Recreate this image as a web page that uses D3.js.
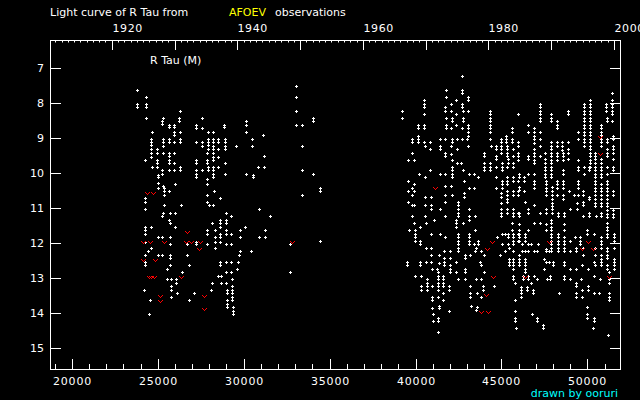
<!DOCTYPE html>
<html>
<head>
<meta charset="utf-8">
<script src="https://cdn.jsdelivr.net/npm/d3@7"></script>
<style>
  body { margin: 0; background: #000; }
  svg { display: block; }
  text { font-family: "DejaVu Sans", sans-serif; font-size: 11px; fill: #fff; }
</style>
</head>
<body>
<svg class="main" width="640" height="400"></svg>
<script>
// visual estimates (JD - 2400000, magnitude), grouped by observing column
const obs1920s = [
  [23790,[7.63,8.02,8.10]], [24200,[13.34]],
  [24250,[9.63,10.71,10.83,11.03,11.54,11.63,11.74,11.98,12.34,12.54,12.63]],
  [24310,[7.83,8.02,8.10,8.43]], [24430,[12.23]], [24490,[14.03]], [24545,[13.63]],
  [24600,[11.54,12.14]], [24610,[9.03,9.10,9.20,9.30,9.43,9.53]], [24660,[8.83,9.83]],
  [24950,[9.30,9.43,9.62,9.70,9.83]], [25010,[10.06,10.12,10.29,10.43,11.83,12.34]],
  [25240,[8.50,8.61,9.91,10.03,11.23,11.83,12.34]], [25280,[8.43,9.03,9.10,9.22,9.43,10.36,11.14]],
  [25360,[10.43,10.51,10.63,10.91]], [25530,[12.74,13.03]],
  [25630,[8.62,8.70,9.03,9.10,9.43,9.50,9.62,9.70,9.91,10.51,11.34]],
  [25710,[11.14,11.43,11.83,12.03,12.34,12.43,12.63]], [25770,[13.03,13.23,13.34,13.54]],
  [25960,[8.62,8.70,8.83,8.90,9.10,9.43,9.70,9.91]], [26000,[10.31,11.14,11.54]],
  [26060,[13.03,13.14]], [26120,[13.43]], [26230,[8.43,8.51]],
  [26290,[8.23,8.83,9.03,9.10,9.83,9.91]], [26350,[10.91]], [26410,[12.83]],
  [26700,[12.03,12.34]], [26810,[12.63,13.63]], [27100,[13.43]],
  [27250,[8.63,8.71,9.10,9.62,9.70,9.91,10.03,10.12,11.98,12.03]],
  [27570,[8.43,8.71,9.10,9.22,9.91]],
  [27860,[9.43,9.62,9.70,10.17,10.31,10.63,10.83,11.63,11.74,12.03]],
  [27920,[8.83,9.03,9.10,9.20,9.30,9.83,9.91]], [27980,[10.91]], [28090,[13.34]],
  [28150,[11.43,13.14]],
  [28210,[8.83,9.03,9.10,9.22,9.30,9.43,9.53,9.62,9.83,9.91,10.03,10.12,10.91]],
  [28270,[10.51]], [28330,[11.63,11.83,11.98,12.14]],
  [28530,[9.03,9.10,9.30,9.53,9.83,12.94]],
  [28620,[10.71,11.34,11.43,11.54,11.74,11.83,11.98,12.54,12.63]],
  [28680,[12.94,13.14]], [28850,[8.62,8.70]], [28910,[9.03,9.10,9.22,9.30,9.70,10.03]],
  [28970,[11.14,11.34,11.43,11.63,11.74,12.03,12.54,12.83,13.14]],
  [29030,[13.34,13.43,13.63,13.74,13.83]], [29260,[11.23,11.74,12.03,12.54,12.83]],
  [29320,[13.03,13.23,13.34,13.43,13.54,13.63]], [29380,[13.83,13.94,14.03]],
  [29550,[9.22]], [29610,[12.74]], [29670,[12.54]], [29720,[12.34]],
  [29780,[11.63,11.83,12.23]], [30070,[11.54]], [30130,[8.51,8.63,8.83,10.03]],
  [30420,[12.23]], [30480,[9.03,9.22]], [30540,[10.06,10.12]], [30830,[9.83]],
  [30890,[11.03,11.83]], [31120,[8.91]], [31180,[9.51,9.83]], [31240,[11.63,11.83]],
  [31530,[11.23]], [32690,[12.03,12.83]], [33040,[7.51,7.83,8.23,8.63]],
  [33390,[8.63,9.23,9.91,10.63]], [34060,[8.43,8.51,10.03]], [34440,[10.43,10.51,11.94]]
]

const obs1970s = [
  [39210,[8.23,8.43]], [39510,[12.54,12.63]], [39560,[9.63,10.23,10.51,10.83]], [39640,[11.63]],
  [39800,[9.03,9.11,9.43,10.43,10.63,10.91,11.23]], [39910,[9.63,10.31,10.51,10.91,11.43]],
  [39970,[11.63,11.74,11.83,11.94,12.94]], [40140,[8.63,8.71,8.94,9.03,9.11]], [40200,[10.03]],
  [40260,[11.54,11.94,12.03,12.54,12.63]], [40310,[12.94,13.23,13.34]],
  [40490,[7.91,8.03,8.11,8.31,8.63,8.71,9.11]], [40550,[9.23,10.11,10.69,10.91,11.23]],
  [40600,[11.43,12.14,12.54]], [40660,[13.03,13.14,13.23,13.34]], [40840,[9.11,9.31,9.91]],
  [40900,[10.69,10.91,11.03,11.74,12.14,12.34,12.54]], [40950,[12.74,13.23,13.54,13.63,13.86]],
  [41010,[14.03,14.23]], [41070,[11.34]], [41250,[12.74]],
  [41300,[12.83,12.94,13.03,13.14,13.23,13.34,13.54,14.14,14.23,14.54]],
  [41360,[12.34,12.57,13.80,13.86]], [41420,[9.03,9.23,9.31,10.03,11.03,11.74]],
  [41590,[12.94,13.03,13.14,13.23,13.43,13.63]], [41650,[12.23,12.43,12.54,12.63]],
  [41710,[8.11,8.23,9.03,9.43,9.51,10.03,10.37,10.63,10.83,11.23,11.83]],
  [41770,[7.63,7.83,8.43,8.63,8.71]], [41940,[13.23,13.34,13.94]],
  [42000,[12.23,12.43,12.63,12.74,12.83]], [42060,[8.03,8.23,8.71,9.23,9.46,10.37]],
  [42120,[8.43,8.51,9.03,9.11,9.63,9.83,9.91,10.03,10.11,10.63]],
  [42350,[7.91,8.31,8.63,11.34,11.43,11.54,12.54,12.83]], [42410,[9.03,9.31,9.71]],
  [42470,[10.83,10.91,11.03,11.14,11.23,11.74,11.83,11.94,12.03,12.14,12.23,13.03]],
  [42640,[9.71]], [42700,[7.22,7.63,7.71,8.03,8.11,8.71,9.03]],
  [42760,[8.23,8.43,8.51,9.91,11.43]], [42820,[10.23,10.57,10.69]],
  [42880,[12.34,12.43,12.74,12.83,13.03]], [42990,[9.03]],
  [43050,[7.83,7.91,8.23,8.63,8.71,8.83,8.94,9.23]],
  [43110,[10.03,10.43,11.03,11.23,11.34,11.74,11.83,11.94,12.03]],
  [43170,[12.34,13.23,13.43,13.54]], [43220,[13.80]], [43400,[10.03,10.43,12.03]],
  [43460,[11.23,11.63,12.23]], [43510,[12.14,13.03,13.91]], [43570,[13.43,13.83]],
  [43630,[10.11,11.94,12.03]], [43750,[12.54]], [43810,[12.23,12.63,13.03,13.54]],
  [43920,[13.23,13.34]], [43980,[9.43,9.51,9.71,9.83,9.91,12.34,12.83]],
  [44330,[8.23,8.31,8.43,8.51,8.63,8.71,8.83,9.03,9.71,9.83,9.91]], [44390,[9.23]],
  [44560,[13.23]], [44680,[9.23,9.31,9.51,9.60,9.83,10.11,10.43]], [44740,[11.83]],
  [44910,[12.34]], [44970,[9.03,9.11,9.23,9.31,9.43,10.57,10.69,10.86,11.03,11.14,11.23]],
  [45030,[9.71,9.83,9.91,10.23,10.31,10.43,11.74,12.03]], [45200,[11.74,12.23]],
  [45260,[8.94,9.03,9.11]],
  [45320,[9.23,9.31,9.43,9.51,9.83,10.11,10.23,10.31,10.51,10.63,10.74,10.83,11.03,11.14]],
  [45380,[9.60,9.71,11.74,11.83,12.03]], [45440,[12.14,12.46,12.54,12.63]],
  [45610,[8.71,8.83,9.03,9.11,11.43,11.63]],
  [45670,[9.31,9.51,9.71,9.83,10.11,10.23,10.51,10.63,11.03,11.14,11.23,11.74,11.83,11.94,12.03,12.23,12.46,12.54,12.63,12.74,12.94,13.03]],
  [45790,[13.14,13.63,13.94,14.14,14.23]], [45840,[14.43]],
  [45960,[8.31,9.11,9.23,9.43,9.51,9.63,10.23,10.51,10.63,11.14,11.74,11.94]]
]

const obs1990s = [
  [46020,[10.03,10.11,10.40,10.49,11.14,11.23,11.46,11.63,11.74,11.83,11.94,12.34,12.46,12.54,12.63]],
  [46130,[13.26,13.34,13.43,13.54]], [46190,[12.03,12.23]], [46250,[12.94,13.03]],
  [46310,[10.11,10.23,10.51]], [46370,[10.83,11.74,11.83,11.94,12.23,12.46,12.54,12.63,12.74,12.83]],
  [46480,[13.26,13.34]], [46540,[8.63,8.83,9.51,9.60,10.03,11.03,11.14,11.63,12.03,12.23,12.94,13.03]],
  [46720,[12.03,13.14]], [46770,[14.03]], [46830,[13.34,13.43]],
  [46890,[8.71,8.83,8.94,9.03,9.14,9.31,9.43,9.51,9.63,9.71,10.03,10.23,10.31,10.43,10.91,11.43,12.23,12.94]],
  [47060,[12.23,13.03,14.14,14.23]], [47120,[12.03]],
  [47240,[8.03,8.11,8.23,8.31,8.43,8.51,8.83,9.03,9.23,9.51,11.14,11.43]],
  [47410,[14.34,14.43]], [47470,[12.46,12.74]], [47530,[9.43,9.60,9.71,9.83,9.91,10.03,10.11]],
  [47590,[10.23,10.31,10.43,10.51,10.63,11.03,11.14,11.46,11.63,12.17,12.23,12.54]],
  [47650,[13.03]], [47760,[12.23,12.54]], [47820,[12.94,13.03]],
  [47880,[8.31,8.43,8.51,9.11,9.23,9.31,9.43,9.51,9.63,9.71,9.83,9.91,10.03,10.11,11.34,11.43,11.54,11.63,11.74,11.83,11.94,12.03,12.14,12.23]],
  [47940,[10.40,10.51,10.63,10.74,10.86,10.94,11.03,11.14]], [48000,[12.54,12.63]],
  [48230,[8.51,8.63,8.71,9.11,9.23,9.43,9.51,9.63,10.23,10.31,10.43,10.63]],
  [48290,[11.14,11.23,11.74,11.83,11.94,12.03,12.14,12.23]], [48350,[13.43]],
  [48520,[9.11,9.23,9.34]], [48580,[9.43,9.51,9.63,9.91,10.03,10.23,10.31,10.43,10.63,10.74]],
  [48640,[11.14,11.23,11.46,11.63,11.83,11.94,12.03,12.14,12.23,12.54,12.63,12.94,13.03]],
  [48870,[8.23,8.31,9.11,9.31,9.43,9.60]], [48930,[10.51]],
  [48990,[11.03,11.94,12.23,12.74,13.03]], [49220,[10.63]], [49280,[11.83]],
  [49330,[12.14,12.23,12.74,13.14,13.23,13.43,13.54]], [49390,[10.86,11.03]],
  [49450,[8.83,9.03,9.63,9.83,9.91,10.23,10.31,10.43,10.63]], [49570,[11.83,11.94,12.03]],
  [49630,[13.03]], [49680,[12.63,13.34,13.54]], [49740,[10.51,10.63,10.83,10.91,11.23,12.14,12.34]],
  [49800,[8.03,8.11,8.23,8.31,8.43,8.51,8.63,8.71,8.83,8.91,9.03,9.11,9.23,9.83,10.03]],
  [49970,[11.63,11.74,13.83,14.03,14.14]], [50030,[12.74,13.23,13.34]],
  [50090,[9.83,9.91,10.69,10.74,11.14,11.23]],
  [50150,[7.91,8.03,8.11,8.23,8.31,8.43,8.51,8.63,8.71,8.83,8.91,9.03,9.11,9.23,9.31,9.43,9.51,9.63,9.71,9.83]],
  [50320,[14.43]], [50380,[11.74,12.54,12.94,13.43,14.14,14.23]],
  [50440,[9.43,9.51,9.60,9.71,9.83,9.91,10.03,10.11,10.23,10.31,10.43,10.51,10.63,10.74,10.86,10.94,12.14,12.34,12.63]],
  [50500,[11.23]], [50670,[13.43]], [50730,[13.03]],
  [50790,[8.63,8.71,8.83,8.91,9.03,9.11,9.23,9.60,9.71,9.83,9.91,10.03,10.11,10.31,10.43,10.51,10.63,10.74,10.86,10.94,11.14,11.23,11.83,11.94,12.03,12.14,12.34,12.46,12.54,12.63]],
  [51080,[8.03,8.11,8.23]],
  [51140,[8.43,8.51,9.03,9.11,9.31,9.43,9.51,9.83,10.03,10.23,10.31,10.43,10.51,10.63,10.74,10.86,10.94,11.06,11.17,11.26,11.43,11.54,11.63,11.74,11.83,12.14,12.23,12.34,12.43,12.63,12.74]],
  [51200,[14.63]], [51250,[12.83,13.03,13.14,13.43,13.54,13.63]],
  [51430,[7.71,7.91,8.03,8.11,8.23,8.31,8.51]],
  [51490,[8.94,9.03,9.23,9.31,9.43,9.60,9.83,9.91,10.51,10.63,11.06,11.17,11.26]],
  [51550,[11.74,11.83,11.94,12.14,12.46,12.54,12.63,12.74]]
]

// "fainter than" estimates
const limits = [
  [24390,10.57], [24720,10.57], [26700,11.69], [24140,11.98], [24530,11.98], [25360,11.98],
  [26620,11.98], [26950,11.98], [27480,11.98], [27400,12.17], [24140,12.49], [24840,12.49],
  [24490,12.96], [24590,12.96], [24780,12.96], [26350,12.96], [25130,13.50], [25130,13.67],
  [27690,13.50], [27690,13.89], [32810,11.97],
  [41130,10.43], [44450,11.97], [44160,12.17], [44500,12.97], [44100,13.49], [43810,13.97], [44210,13.97],
  [50730,8.97], [50730,9.46], [47760,11.97], [50030,11.97], [49680,12.17], [50320,12.17],
  [46370,12.97], [51250,12.97]
]

const jdTicks = [20000, 25000, 30000, 35000, 40000, 45000, 50000]
const magTicks = [7, 8, 9, 10, 11, 12, 13, 14, 15]
const yearTicks = [1920, 1930, 1940, 1950, 1960, 1970, 1980, 1990, 2000]

// flatten columns into points
var points = []
obs1920s.concat(obs1970s, obs1990s).forEach(function(c) {
  c[1].forEach(function(m) { points.push({jd: c[0], mag: m}) })
})

const svg = d3.select('svg.main')
svg.append('rect').attr('width', 640).attr('height', 400).attr('fill', '#000')

// scales (rounded so the 1px lines stay crisp)
const x = d3.scaleLinear().domain([18730, 51900]).range([50, 620]).interpolate(d3.interpolateRound)
const y = d3.scaleLinear().domain([6.2, 15.6]).range([40, 369]).interpolate(d3.interpolateRound)
function toYear(jd) { return 2000 + (jd - 51544.5) / 365.25 }
const yr = d3.scaleLinear().domain(x.domain().map(toYear)).range(x.range()).interpolate(d3.interpolateRound)

// axes
function style(g) {
  g.select('.domain').remove()
  g.selectAll('line').attr('stroke', '#fff')
  g.selectAll('text').attr('fill', '#fff').attr('font-size', 11).attr('font-family', '"DejaVu Sans", sans-serif')
}

svg.append('g').attr('transform', 'translate(0,369)')
  .call(d3.axisBottom(x).tickValues(d3.range(19000, 52000, 1000)).tickSize(-5).tickFormat(''))
  .call(style)
svg.append('g').attr('transform', 'translate(0,369)')
  .call(d3.axisBottom(x).tickValues(jdTicks).tickSize(-10).tickPadding(8).tickFormat(d3.format('d')))
  .call(style)
  .selectAll('text').attr('letter-spacing', 0.8)

svg.append('g').attr('transform', 'translate(0,40)')
  .call(d3.axisTop(yr).tickValues(d3.range(1911, 2001)).tickSize(-2.5).tickFormat(''))
  .call(style)
svg.append('g').attr('transform', 'translate(0,40)')
  .call(d3.axisTop(yr).tickValues(yearTicks).tickSize(-10).tickPadding(8)
    .tickFormat(function(d) { return d % 20 == 0 ? d : '' }))
  .call(style)
  .selectAll('text').attr('text-anchor', 'start').attr('letter-spacing', 0.6)

svg.append('g').attr('transform', 'translate(50,0)')
  .call(d3.axisLeft(y).tickValues(magTicks).tickSize(-11).tickPadding(6))
  .call(style)
svg.append('g').attr('transform', 'translate(620,0)')
  .call(d3.axisRight(y).tickValues(magTicks).tickSize(-10).tickFormat(''))
  .call(style)

// frame
svg.append('rect')
  .attr('x', 50.5).attr('y', 40.5).attr('width', 570).attr('height', 329)
  .attr('fill', 'none').attr('stroke', '#fff')

// observations: small white crosses
svg.append('g').selectAll('path')
  .data(points).join('path')
  .attr('fill', '#fff')
  .attr('d', function(d) {
    var px = x(d.jd), py = y(d.mag)
    return `M${px-1},${py}h3v1h-3z M${px},${py-1}h1v3h-1z`
  })

// limits: red "v"
svg.append('g').selectAll('path')
  .data(limits).join('path')
  .attr('fill', '#ff0000')
  .attr('d', function(d) {
    var px = x(d[0]), py = y(d[1])
    var pix = [[-2,-1],[2,-1],[-1,0],[1,0],[0,1]]
    return pix.map(p => `M${px+p[0]},${py+p[1]}h1v1h-1z`).join(' ')
  })

// texts
svg.append('text').attr('x', 50).attr('y', 16).text('Light curve of R Tau from')
svg.append('text').attr('x', 229).attr('y', 16).style('fill', '#ffff00').text('AFOEV')
svg.append('text').attr('x', 275).attr('y', 16).text('observations')
svg.append('text').attr('x', 150).attr('y', 64).text('R Tau (M)')
svg.append('text').attr('x', 618).attr('y', 397).attr('text-anchor', 'end')
  .style('fill', '#00ffff').text('drawn by ooruri')
</script>
</body>
</html>
